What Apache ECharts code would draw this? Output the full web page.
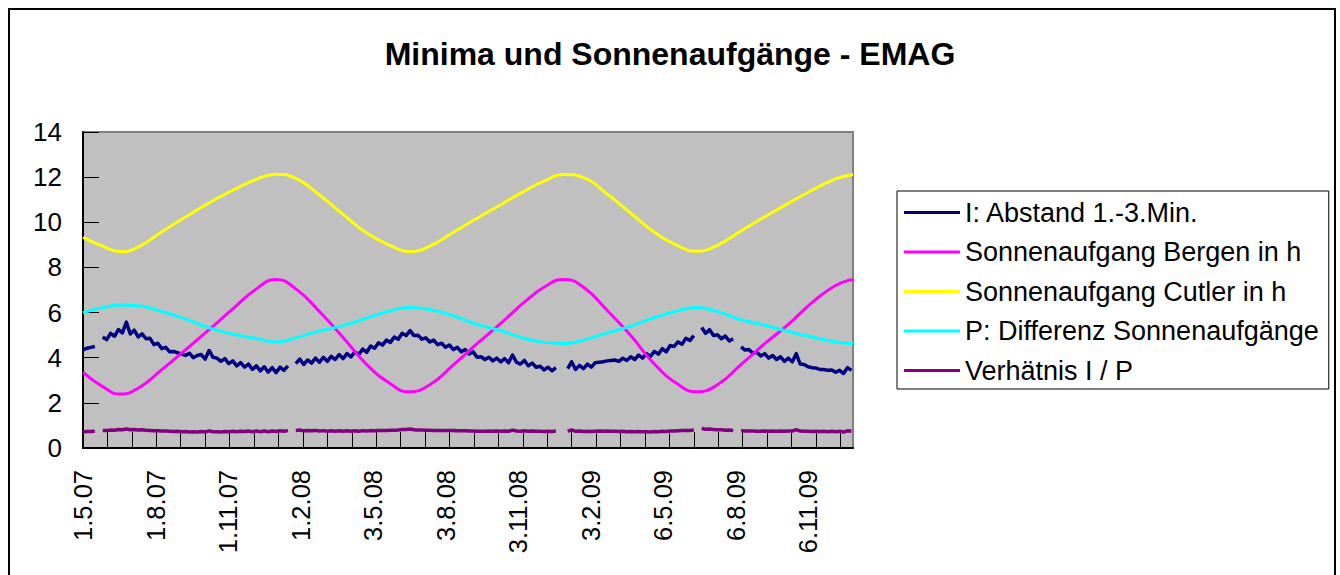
<!DOCTYPE html>
<html>
<head>
<meta charset="utf-8">
<title>Minima und Sonnenaufgänge - EMAG</title>
<script src="https://cdn.jsdelivr.net/npm/echarts@6.0.0/dist/echarts.min.js"></script>
<style>
html, body { margin: 0; padding: 0; background: #fff; }
#main { width: 1340px; height: 575px; }
</style>
</head>
<body>
<div id="main"></div>
<script>
// x = days counted from 1.5.07
var LAST_DAY = 977;
var STEP = 5; // the two noisy series hold one value every 5 days

var labelDays = [0, 92, 184, 276, 368, 460, 552, 644, 736, 828, 920];
var labelText = ['1.5.07', '1.8.07', '1.11.07', '1.2.08', '3.5.08', '3.8.08', '3.11.08', '3.2.09', '6.5.09', '6.8.09', '6.11.09'];
var tickDays = [0, 31, 62, 93, 124, 155, 186, 217, 248, 279, 310, 341, 372, 403, 434, 465, 496, 527, 558, 589, 620, 651, 682, 713, 744, 775, 806, 837, 868, 899, 930, 961];

var seriesNames = ['I: Abstand 1.-3.Min.', 'Sonnenaufgang Bergen in h', 'Sonnenaufgang Cutler in h', 'P: Differenz Sonnenaufgänge', 'Verhätnis I / P'];

// days for the three smooth curves
var sunDays = [0, 25, 47, 70, 100, 130, 160, 190, 220, 245, 270, 300, 330, 360, 390, 413, 440, 470, 500, 530, 560, 585, 610, 635, 665, 695, 725, 755, 778, 805, 835, 865, 895, 925, 955, 977];

var bergen = [3.35, 2.72, 2.39, 2.65, 3.47, 4.35, 5.24, 6.16, 7.05, 7.47, 7.05, 6.05, 4.90, 3.70, 2.85, 2.49, 2.80, 3.68, 4.62, 5.52, 6.46, 7.12, 7.47, 7.12, 6.10, 4.98, 3.72, 2.82, 2.49, 2.80, 3.70, 4.62, 5.48, 6.44, 7.20, 7.47];

var cutler = [9.33, 8.94, 8.70, 8.90, 9.58, 10.23, 10.86, 11.42, 11.90, 12.13, 11.95, 11.21, 10.35, 9.52, 8.97, 8.70, 8.94, 9.56, 10.18, 10.78, 11.38, 11.82, 12.12, 11.98, 11.25, 10.40, 9.56, 8.96, 8.72, 8.98, 9.62, 10.24, 10.84, 11.42, 11.92, 12.12];

var differenz = [6.00, 6.22, 6.33, 6.30, 6.05, 5.72, 5.32, 5.05, 4.85, 4.70, 4.88, 5.18, 5.42, 5.76, 6.08, 6.23, 6.14, 5.86, 5.48, 5.20, 4.86, 4.68, 4.63, 4.78, 5.10, 5.40, 5.78, 6.08, 6.22, 6.05, 5.68, 5.45, 5.16, 4.92, 4.70, 4.63];

// I: Abstand 1.-3.Min., every 5 days, null = no data
var abstand = [
  4.35, 4.42, 4.46, 4.50, null, 4.92, 4.80, 5.08, 4.95, 5.25,
  5.10, 5.58, 5.05, 5.22, 4.92, 5.06, 4.84, 4.86, 4.58, 4.64,
  4.40, 4.46, 4.26, 4.28, 4.22, 4.16, 4.10, 4.20, 4.00, 4.10,
  4.14, 3.94, 4.32, 4.02, 3.98, 3.84, 3.96, 3.74, 3.86, 3.64,
  3.78, 3.58, 3.72, 3.48, 3.64, 3.42, 3.60, 3.36, 3.56, 3.34,
  3.58, 3.44, 3.64, null, 3.74, 3.94, 3.70, 3.90, 3.76, 3.98,
  3.80, 4.02, 3.84, 4.06, 3.92, 4.14, 3.96, 4.18, 4.04, 4.26,
  4.14, 4.38, 4.24, 4.52, 4.42, 4.66, 4.56, 4.78, 4.68, 4.92,
  4.82, 5.08, 4.98, 5.20, 4.98, 5.00, 4.82, 4.88, 4.70, 4.78,
  4.58, 4.64, 4.46, 4.56, 4.36, 4.46, 4.26, 4.36, 4.16, 4.26,
  4.02, 4.04, 3.92, 4.02, 3.86, 3.98, 3.82, 3.96, 3.78, 4.12,
  3.80, 3.72, 3.88, 3.64, 3.76, 3.58, 3.62, 3.46, 3.58, 3.42,
  3.56, null, null, 3.52, 3.82, 3.48, 3.66, 3.52, 3.72, 3.58,
  3.78, 3.80, 3.82, 3.86, 3.88, 3.90, 3.84, 3.98, 3.88, 4.04,
  3.92, 4.12, 3.98, 4.18, 4.06, 4.28, 4.16, 4.40, 4.26, 4.54,
  4.50, 4.70, 4.60, 4.86, 4.76, 4.98, null, 5.34, 5.08, 5.24,
  4.98, 5.02, 4.84, 4.96, 4.74, 4.84, null, 4.48, 4.34, 4.36,
  4.20, 4.24, 4.08, 4.18, 3.98, 4.10, 3.92, 4.04, 3.84, 3.98,
  3.82, 4.18, 3.72, 3.70, 3.60, 3.56, 3.54, 3.48, 3.48, 3.44,
  3.46, 3.36, 3.44, 3.30, 3.56, 3.44
];

// Verhätnis I / P, every 5 days
var verhaeltnis = [
  0.72, 0.73, 0.73, 0.74, null, 0.78, 0.77, 0.80, 0.79, 0.82,
  0.81, 0.84, 0.81, 0.82, 0.80, 0.81, 0.79, 0.78, 0.76, 0.76,
  0.75, 0.75, 0.74, 0.73, 0.74, 0.72, 0.73, 0.71, 0.72, 0.71,
  0.73, 0.71, 0.76, 0.72, 0.72, 0.71, 0.73, 0.72, 0.74, 0.72,
  0.74, 0.73, 0.75, 0.72, 0.75, 0.72, 0.75, 0.72, 0.75, 0.73,
  0.76, 0.74, 0.77, null, 0.78, 0.80, 0.76, 0.78, 0.76, 0.78,
  0.75, 0.77, 0.74, 0.76, 0.74, 0.76, 0.74, 0.76, 0.74, 0.76,
  0.74, 0.77, 0.75, 0.77, 0.76, 0.77, 0.77, 0.78, 0.79, 0.79,
  0.80, 0.82, 0.82, 0.84, 0.81, 0.80, 0.80, 0.79, 0.79, 0.78,
  0.78, 0.77, 0.77, 0.77, 0.77, 0.76, 0.76, 0.76, 0.75, 0.75,
  0.74, 0.74, 0.74, 0.75, 0.74, 0.75, 0.74, 0.75, 0.74, 0.79,
  0.75, 0.74, 0.76, 0.74, 0.75, 0.74, 0.74, 0.73, 0.74, 0.73,
  0.75, null, null, 0.75, 0.80, 0.74, 0.75, 0.73, 0.74, 0.73,
  0.74, 0.75, 0.74, 0.75, 0.74, 0.74, 0.73, 0.74, 0.72, 0.73,
  0.72, 0.73, 0.72, 0.72, 0.71, 0.73, 0.72, 0.74, 0.73, 0.75,
  0.75, 0.76, 0.77, 0.78, 0.78, 0.80, null, 0.86, 0.83, 0.84,
  0.82, 0.81, 0.81, 0.79, 0.80, 0.78, null, 0.76, 0.75, 0.75,
  0.75, 0.74, 0.74, 0.75, 0.74, 0.75, 0.74, 0.75, 0.74, 0.75,
  0.75, 0.81, 0.75, 0.74, 0.74, 0.73, 0.74, 0.73, 0.74, 0.72,
  0.74, 0.72, 0.74, 0.71, 0.76, 0.74
];

var FONT = "'Liberation Sans', Arial, sans-serif";

function sunPairs(vals) {
  return vals.map(function (v, i) { return [sunDays[i], v]; });
}
function stepPairs(vals) {
  return vals.map(function (v, i) { return [i * STEP, v === null ? '-' : v]; });
}

function lineSeries(name, data, color, width, smooth) {
  return {
    name: name,
    type: 'line',
    data: data,
    smooth: smooth,
    showSymbol: false,
    connectNulls: false,
    lineStyle: { color: color, width: width, join: 'round' },
    itemStyle: { color: color },
    emphasis: { disabled: true }
  };
}

var chart = echarts.init(document.getElementById('main'), null, { renderer: 'svg' });
chart.setOption({
  animation: false,
  backgroundColor: '#fff',
  title: {
    text: 'Minima und Sonnenaufgänge - EMAG',
    left: 'center',
    top: 33,
    textStyle: { fontFamily: FONT, fontSize: 32, fontWeight: 'bold', color: '#000' }
  },
  graphic: [{
    type: 'rect',
    shape: { x: 9, y: 9, width: 1326, height: 600 },
    style: { fill: 'none', stroke: '#000', lineWidth: 2 },
    silent: true
  }],
  legend: {
    orient: 'vertical',
    left: 897,
    top: 191,
    padding: [8, 10, 5, 7],
    itemGap: 12.5,
    itemWidth: 56,
    itemHeight: 3,
    icon: 'rect',
    borderColor: '#000',
    borderWidth: 1,
    backgroundColor: '#fff',
    data: seriesNames,
    textStyle: { fontFamily: FONT, fontSize: 27, color: '#000' }
  },
  grid: {
    left: 83, top: 132, width: 770, height: 316,
    show: true,
    backgroundColor: '#C0C0C0',
    borderColor: '#808080',
    borderWidth: 2
  },
  xAxis: [{
    type: 'value',
    min: 0, max: LAST_DAY,
    axisLine: { lineStyle: { color: '#000', width: 2 } },
    axisTick: { show: false },
    splitLine: { show: false },
    axisLabel: {
      customValues: labelDays,
      rotate: 90,
      margin: 22,
      fontFamily: FONT, fontSize: 25.5, color: '#000',
      formatter: function (v) {
        var i = labelDays.indexOf(v);
        return i < 0 ? '' : labelText[i];
      }
    }
  }, {
    // crossing tick marks
    type: 'value',
    min: 0, max: LAST_DAY,
    position: 'bottom',
    offset: 8,
    axisLine: { show: false },
    axisLabel: { show: false },
    splitLine: { show: false },
    axisTick: { show: true, inside: true, length: 16, customValues: tickDays, lineStyle: { color: '#000', width: 1 } }
  }],
  yAxis: [{
    type: 'value',
    min: 0, max: 14, interval: 2,
    axisLine: { show: true, lineStyle: { color: '#000', width: 2 } },
    axisTick: { show: false },
    splitLine: { show: false },
    axisLabel: { margin: 21, fontFamily: FONT, fontSize: 26, color: '#000' }
  }, {
    type: 'value',
    min: 0, max: 14, interval: 2,
    position: 'left',
    offset: 8,
    axisLine: { show: false },
    axisLabel: { show: false },
    splitLine: { show: false },
    axisTick: { show: true, inside: true, length: 16, lineStyle: { color: '#000', width: 1 } }
  }],
  series: [
    lineSeries(seriesNames[0], stepPairs(abstand), '#000080', 3.5, false),
    lineSeries(seriesNames[1], sunPairs(bergen), '#FF00FF', 3, true),
    lineSeries(seriesNames[2], sunPairs(cutler), '#FFFF00', 3, true),
    lineSeries(seriesNames[3], sunPairs(differenz), '#00FFFF', 3, true),
    lineSeries(seriesNames[4], stepPairs(verhaeltnis), '#800080', 3.5, false)
  ]
});
</script>
</body>
</html>
